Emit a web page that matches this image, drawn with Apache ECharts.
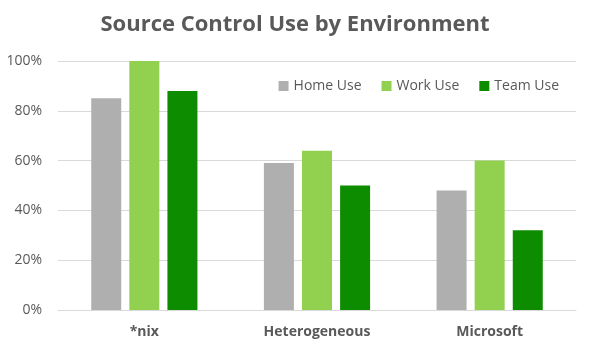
<!DOCTYPE html>
<html>
<head>
<meta charset="utf-8">
<script src="https://cdn.jsdelivr.net/npm/echarts@6/dist/echarts.min.js"></script>
<style>
  html, body { margin: 0; padding: 0; background: #fff; }
  #chart { width: 590px; height: 352px; }
</style>
</head>
<body>
<div id="chart"></div>
<script>
const categories = ['*nix', 'Heterogeneous', 'Microsoft']
const homeUse = [85, 59, 48]
const workUse = [100, 64, 60]
const teamUse = [88, 50, 32]

const chart = echarts.init(document.getElementById('chart'))

const textColor = '#595959'
const font = 'Open Sans, sans-serif'

chart.setOption({
    animation: false,
    title: {
        text: 'Source Control Use by Environment',
        left: 'center',
        top: 9,
        textStyle: { color: textColor, fontSize: 22, fontWeight: 'bold', fontFamily: font }
    },
    legend: {
        right: 26,
        top: 74,
        itemWidth: 10,
        itemHeight: 10,
        itemGap: 20,
        icon: 'rect',
        textStyle: { color: textColor, fontSize: 14, fontFamily: font }
    },
    grid: { left: 58, right: 14, top: 61, bottom: 42 },
    xAxis: {
        type: 'category',
        data: categories,
        axisTick: { show: false },
        axisLine: { lineStyle: { color: '#d9d9d9' } },
        axisLabel: { color: textColor, fontSize: 14, fontWeight: 'bold', fontFamily: font, margin: 15 }
    },
    yAxis: {
        type: 'value',
        min: 0,
        max: 100,
        interval: 20,
        axisLabel: { formatter: '{value}%', color: textColor, fontSize: 14, fontFamily: font, margin: 16 },
        splitLine: { lineStyle: { color: '#d9d9d9' } }
    },
    series: [
        { name: 'Home Use', type: 'bar', data: homeUse, itemStyle: { color: '#afafaf' }, barWidth: 30, barGap: '27%' },
        { name: 'Work Use', type: 'bar', data: workUse, itemStyle: { color: '#92d050' }, barWidth: 30, barGap: '27%' },
        { name: 'Team Use', type: 'bar', data: teamUse, itemStyle: { color: '#0e8c00' }, barWidth: 30, barGap: '27%' }
    ]
})
</script>
</body>
</html>
